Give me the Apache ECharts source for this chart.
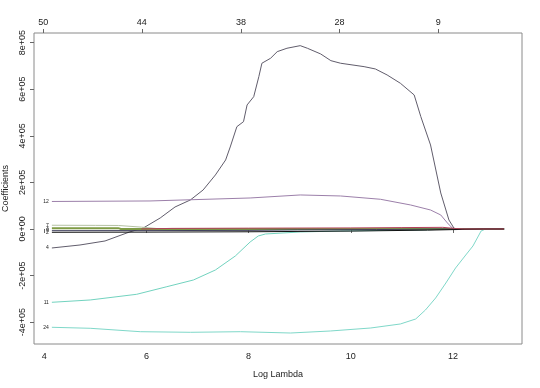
<!DOCTYPE html>
<html>
<head>
<meta charset="utf-8">
<script src="https://cdn.jsdelivr.net/npm/echarts@6/dist/echarts.min.js"></script>
<style>html,body{margin:0;padding:0;background:#fff}#c{width:540px;height:388px}</style>
</head>
<body>
<div id="c"></div>
<script>
// Bottom axis ticks (log lambda)
var xTickValues = [4, 6, 8, 10, 12];
var xTickLabels = ['4', '6', '8', '10', '12'];
// Top axis: number of nonzero coefficients
var topTickValues = [3.98, 5.91, 7.85, 9.78, 11.71];
var topTickLabels = ['50', '44', '38', '28', '9'];
// Y axis ticks
var yTickValues = [-400000, -200000, 0, 200000, 400000, 600000, 800000];
var yTickLabels = ['-4e+05', '-2e+05', '0e+00', '2e+05', '4e+05', '6e+05', '8e+05'];

// Coefficient paths: [log lambda, coefficient]
var var4 = [[4.15,-81500],[4.70,-68700],[5.19,-51500],[5.67,-12900],[5.94,4300],[6.27,47200],[6.56,94400],[6.86,124500],[7.11,167400],[7.35,231800],[7.55,296100],[7.64,351900],[7.77,439000],[7.90,460500],[7.97,532200],[8.10,567800],[8.20,653700],[8.26,711200],[8.43,732600],[8.56,761000],[8.75,775500],[9.01,786700],[9.15,775500],[9.41,751100],[9.61,722300],[9.80,711200],[10.26,696600],[10.48,686700],[10.71,661000],[10.97,625300],[11.24,575100],[11.37,482000],[11.56,360500],[11.76,154500],[11.92,38600],[12.02,3000],[12.10,0],[13.0,0]];
var var12 = [[4.15,118000],[6.07,120200],[8.03,133000],[9.01,146000],[9.80,141600],[10.58,127500],[11.17,103000],[11.56,81500],[11.76,60100],[11.89,25800],[11.99,3000],[12.05,0],[13.0,0]];
var var11 = [[4.15,-314600],[4.90,-304700],[5.81,-280300],[6.40,-247700],[6.92,-218900],[7.35,-176000],[7.74,-115900],[8.03,-55800],[8.19,-30000],[8.33,-21500],[9.01,-12900],[9.80,-8600],[11.37,-4300],[11.96,0],[13.0,0]];
var var24 = [[4.15,-421900],[4.90,-426200],[5.88,-440800],[6.86,-443400],[7.84,-440800],[8.82,-446400],[9.60,-437800],[10.39,-424900],[10.97,-407700],[11.27,-386300],[11.46,-347700],[11.66,-296100],[11.86,-231800],[12.05,-167400],[12.25,-111600],[12.39,-73000],[12.55,-8600],[12.64,0],[13.0,0]];
var var7 = [[4.15,16000],[5.00,15500],[5.45,15000],[5.90,8000],[6.30,0],[13.0,0]];
var var3 = [[4.15,3500],[5.45,3500],[5.50,0],[13.0,0]];
var var9 = [[4.15,-7300],[6.00,-7000],[8.00,-6000],[8.95,-4000],[10.50,-2500],[12.00,0],[13.0,0]];
var var2 = [[4.15,-14200],[6.00,-13500],[8.00,-12000],[10.00,-9000],[11.50,-5000],[12.60,0],[13.0,0]];
var var18 = [[5.90,0],[6.50,2500],[8.00,3500],[10.00,4500],[11.00,6000],[11.80,7000],[12.05,2000],[12.20,0],[13.0,0]];

var pathSeries = [
  {name: '4', data: var4, color: '#615d6c'},
  {name: '12', data: var12, color: '#9c80aa'},
  {name: '11', data: var11, color: '#72d3bf'},
  {name: '24', data: var24, color: '#7fd8c9'},
  {name: '7', data: var7, color: '#b4c2a2'},
  {name: '3', data: var3, color: '#7f9b45'},
  {name: '9', data: var9, color: '#3e3e5c'},
  {name: '2', data: var2, color: '#111111'},
  {name: '18', data: var18, color: '#b3405c'}
];

function lookup(vals, labs) {
  return function (v) {
    for (var i = 0; i < vals.length; i++) { if (Math.abs(vals[i] - v) < 1e-6) return labs[i]; }
    return '';
  };
}

var font = 'Liberation Sans, Arial, sans-serif';
var series = pathSeries.map(function (s) {
  var d = s.data.map(function (p, i) {
    if (i === 0 && p[0] < 4.2) {
      return {value: p, symbol: 'circle', symbolSize: 0.01,
        label: {show: true, position: 'left', distance: 3, formatter: s.name, fontSize: 5, color: '#222', fontFamily: font}};
    }
    return {value: p, symbol: 'none'};
  });
  return {
    type: 'line', name: s.name, data: d, showSymbol: true, symbol: 'none',
    lineStyle: {color: s.color, width: s.name === '3' ? 2 : 1},
    itemStyle: {color: s.color}, silent: true, animation: false, z: 2
  };
});

var chart = echarts.init(document.getElementById('c'));
chart.setOption({
  animation: false,
  backgroundColor: '#ffffff',
  grid: {left: 34, right: 18, top: 33, bottom: 44, show: true, borderColor: '#8a8a8a', borderWidth: 1, backgroundColor: 'transparent', outerBoundsMode: 'none', containLabel: false},
  xAxis: [{
    type: 'value', position: 'bottom', min: 3.8, max: 13.35,
    name: 'Log Lambda', nameLocation: 'middle', nameGap: 26,
    nameTextStyle: {fontSize: 9, color: '#222', fontFamily: font},
    axisLine: {show: false}, splitLine: {show: false},
    axisTick: {show: true, length: 4, customValues: xTickValues, lineStyle: {color: '#666'}},
    axisLabel: {customValues: xTickValues, formatter: lookup(xTickValues, xTickLabels), fontSize: 9, color: '#222', margin: 8, fontFamily: font}
  }, {
    type: 'value', position: 'top', min: 3.8, max: 13.35,
    axisLine: {show: false}, splitLine: {show: false},
    axisTick: {show: true, length: 4, customValues: topTickValues, lineStyle: {color: '#666'}},
    axisLabel: {customValues: topTickValues, formatter: lookup(topTickValues, topTickLabels), fontSize: 9, color: '#222', margin: 6, fontFamily: font}
  }],
  yAxis: [{
    type: 'value', min: -493600, max: 841000,
    name: 'Coefficients', nameLocation: 'middle', nameGap: 22, nameRotate: 90,
    nameTextStyle: {fontSize: 9, color: '#222', fontFamily: font},
    axisLine: {show: false}, splitLine: {show: false},
    axisTick: {show: true, length: 4, customValues: yTickValues, lineStyle: {color: '#666'}},
    axisLabel: {customValues: yTickValues, formatter: lookup(yTickValues, yTickLabels), rotate: 90, fontSize: 9, color: '#222', margin: 7, fontFamily: font}
  }],
  series: series
});
</script>
</body>
</html>
